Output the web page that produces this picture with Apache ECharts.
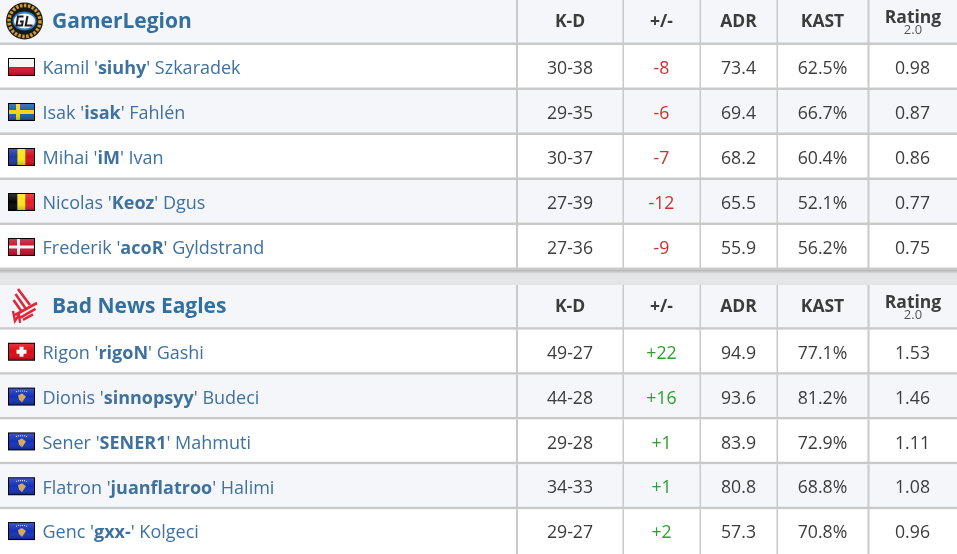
<!DOCTYPE html>
<html>
<head>
<meta charset="utf-8">
<title>Scoreboard</title>
<script src="https://cdn.jsdelivr.net/npm/echarts@6/dist/echarts.min.js"></script>
<style>
html, body { margin: 0; padding: 0; background: #fff; }
#main { width: 957px; height: 554px; }
</style>
</head>
<body>
<div id="main"></div>
<script>
var columns = ['K-D', '+/-', 'ADR', 'KAST', 'Rating'];
var ratingVersion = '2.0';

var teamA = 'GamerLegion';
var namesA = [['Kamil', 'siuhy', 'Szkaradek'], ['Isak', 'isak', 'Fahlén'], ['Mihai', 'iM', 'Ivan'], ['Nicolas', 'Keoz', 'Dgus'], ['Frederik', 'acoR', 'Gyldstrand']];
var flagsA = ['pl', 'se', 'ro', 'be', 'dk'];
var kdA = ['30-38', '29-35', '30-37', '27-39', '27-36'];
var diffA = [-8, -6, -7, -12, -9];
var adrA = [73.4, 69.4, 68.2, 65.5, 55.9];
var kastA = [62.5, 66.7, 60.4, 52.1, 56.2];
var ratingA = [0.98, 0.87, 0.86, 0.77, 0.75];

var teamB = 'Bad News Eagles';
var namesB = [['Rigon', 'rigoN', 'Gashi'], ['Dionis', 'sinnopsyy', 'Budeci'], ['Sener', 'SENER1', 'Mahmuti'], ['Flatron', 'juanflatroo', 'Halimi'], ['Genc', 'gxx-', 'Kolgeci']];
var flagsB = ['ch', 'xk', 'xk', 'xk', 'xk'];
var kdB = ['49-27', '44-28', '29-28', '34-33', '29-27'];
var diffB = [22, 16, 1, 1, 2];
var adrB = [94.9, 93.6, 83.9, 80.8, 57.3];
var kastB = [77.1, 81.2, 72.9, 68.8, 70.8];
var ratingB = [1.53, 1.46, 1.11, 1.08, 0.96];

// column borders in x axis units (the axis runs 0-957)
var colEdges = [517, 623, 700, 777, 868, 957];
var FONT = '"Open Sans", "Noto Sans", sans-serif';
var LINK = '#3f719f';
var DARK = '#3c3c3c';
var LINE = '#c9c9c9';
var SHADE = '#f5f6fa';

var chart = echarts.init(document.getElementById('main'), null, { renderer: 'canvas' });

function gloss(x, y, w, h) {
	return {
		type: 'rect',
		shape: { x: x, y: y, width: w, height: h },
		style: {
			fill: new echarts.graphic.LinearGradient(0, 0, 0, 1, [
				{ offset: 0, color: 'rgba(255,255,255,0.18)' },
				{ offset: 0.5, color: 'rgba(255,255,255,0)' },
				{ offset: 1, color: 'rgba(0,0,0,0.22)' }
			])
		}
	};
}

function box(x, y, w, h, c) {
	return { type: 'rect', shape: { x: x, y: y, width: w, height: h }, style: { fill: c } };
}

function stroke(points, c, w) {
	return { type: 'polyline', shape: { points: points }, style: { fill: 'none', stroke: c, lineWidth: w } };
}

// little flag, 27x18 with a black border
function flag(code, cy) {
	var x = 8, y = cy - 9, w = 27, h = 18, c = [];
	var ix = x + 1, iy = y + 1, iw = w - 2, ih = h - 2;
	c.push(box(x, y, w, h, '#000'));
	if (code == 'pl') {
		c.push(box(ix, iy, iw, ih / 2, '#f4f4f4'), box(ix, iy + ih / 2, iw, ih / 2, '#d3112f'));
	} else if (code == 'se') {
		c.push(box(ix, iy, iw, ih, '#1a5aa5'), box(ix + 7, iy, 4, ih, '#f7d417'), box(ix, iy + 6, iw, 4, '#f7d417'));
	} else if (code == 'ro') {
		c.push(box(ix, iy, iw / 3, ih, '#1c3a9c'), box(ix + iw / 3, iy, iw / 3, ih, '#fbe31a'), box(ix + iw * 2 / 3, iy, iw / 3, ih, '#cf1020'));
	} else if (code == 'be') {
		c.push(box(ix, iy, iw / 3, ih, '#050505'), box(ix + iw / 3, iy, iw / 3, ih, '#fbe31a'), box(ix + iw * 2 / 3, iy, iw / 3, ih, '#e21a2c'));
	} else if (code == 'dk') {
		c.push(box(ix, iy, iw, ih, '#c8102e'), box(ix + 8, iy, 3, ih, '#f4f4f4'), box(ix, iy + 6.5, iw, 3, '#f4f4f4'));
	} else if (code == 'ch') {
		c.push(box(ix, iy, iw, ih, '#dc0a14'), box(ix + 10.5, iy + 3, 4, 10, '#fff'), box(ix + 7.5, iy + 6, 10, 4, '#fff'));
	} else if (code == 'xk') {
		c.push(box(ix, iy, iw, ih, '#1330b8'));
		c.push({ type: 'polygon', shape: { points: [[ix + 9, iy + 7], [ix + 13, iy + 5], [ix + 17, iy + 8], [ix + 15, iy + 11], [ix + 13, iy + 14], [ix + 10, iy + 11]] }, style: { fill: '#d5a85c' } });
		for (var i = 0; i < 6; i++) {
			c.push({ type: 'circle', shape: { cx: ix + 7.5 + i * 2, cy: iy + 3 - (i == 0 || i == 5 ? 0 : 0.6), r: 0.6 }, style: { fill: '#e8e8f5' } });
		}
	}
	c.push(gloss(ix, iy, iw, ih));
	return { type: 'group', children: c, silent: true };
}

function logoGL(cy) {
	var cx = 24.5, c = [];
	c.push({ type: 'circle', shape: { cx: cx, cy: cy, r: 18.5 }, style: { fill: '#1b1b1b' } });
	c.push({ type: 'circle', shape: { cx: cx, cy: cy, r: 15.5 }, style: { fill: 'none', stroke: '#d39a2d', lineWidth: 3.5, lineDash: [2.5, 1.5] } });
	c.push({ type: 'circle', shape: { cx: cx, cy: cy, r: 12.5 }, style: { fill: '#15181c' } });
	c.push({ type: 'ellipse', shape: { cx: cx, cy: cy, rx: 12, ry: 9.5 }, style: { fill: '#2f83bd' } });
	c.push({ type: 'ellipse', shape: { cx: cx, cy: cy, rx: 10.5, ry: 7.5 }, style: { fill: '#f4f6f8' } });
	// GL drawn as strokes, it is a part of the picture
	c.push(stroke([[cx - 1, cy - 4.5], [cx - 6.5, cy - 4.5], [cx - 8, cy + 4.5], [cx - 2.5, cy + 4.5], [cx - 1.8, cy + 0.5], [cx - 4.5, cy + 0.5]], '#1a1d22', 2));
	c.push(stroke([[cx + 3, cy - 5], [cx + 1.2, cy + 4.5], [cx + 8, cy + 4.5]], '#1a1d22', 2));
	return { type: 'group', children: c, silent: true };
}

function logoBNE(cy) {
	var red = '#e0263a', c = [];
	c.push(stroke([[18, cy - 17], [30, cy - 1]], red, 2.6));
	c.push(stroke([[15.5, cy - 12], [26, cy + 3]], red, 2.6));
	c.push(stroke([[13.5, cy - 6], [22, cy + 6]], red, 2.6));
	c.push(stroke([[37, cy - 3], [15, cy + 9]], red, 2.8));
	c.push(stroke([[35.5, cy + 3], [20, cy + 12]], red, 2.6));
	c.push(stroke([[33, cy + 8.5], [23, cy + 14]], red, 2.4));
	c.push(stroke([[13, cy + 5], [15, cy + 15], [19, cy + 9], [20, cy + 17]], red, 2.4));
	return { type: 'group', children: c, silent: true };
}

// row items: 0 is the header row, 1-5 are players
function renderRow(params, api) {
	var row = api.value(0);
	var top = api.coord([0, row]);
	var band = api.size([0, 1])[1];
	var y0 = top[1] - band / 2;
	var bg = (row % 2 == 0 && row < 5) ? SHADE : '#ffffff';
	var c = [box(0, y0, 957, band, bg)];
	colEdges.slice(0, 5).forEach(function (e, i) {
		var px = api.coord([e, row])[0];
		c.push(box(px - (i == 0 ? 1 : 0.5), y0, (i == 0 || i == 4) ? 2 : 1.5, band, LINE));
	});
	// the lower table runs off the picture, no closing line there
	if (!(params.seriesIndex > 2 && row == 5)) {
		c.push(box(0, y0 + band - 2.5, 957, 2.5, LINE));
	}
	// shadow under the upper table
	if (params.seriesIndex <= 2 && row == 5) {
		c.push({
			type: 'rect',
			shape: { x: 0, y: y0 + band, width: 957, height: 4 },
			style: {
				fill: new echarts.graphic.LinearGradient(0, 0, 0, 1, [
					{ offset: 0, color: 'rgba(0,0,0,0.22)' },
					{ offset: 1, color: 'rgba(0,0,0,0)' }
				])
			}
		});
	}
	return { type: 'group', children: c };
}

function cellText(text, px, y, size, weight, fill) {
	return { type: 'text', style: { text: text, x: px, y: y, align: 'center', verticalAlign: 'middle', fontFamily: FONT, fontWeight: weight, fontSize: size, fill: fill } };
}

function cellRenderer(cells) {
	return function (params, api) {
		var cell = cells[params.dataIndex];
		var col = cell[0], row = cell[1], text = cell[2];
		var y = api.coord([0, row])[1];
		var px = api.coord([(colEdges[col] + colEdges[col + 1]) / 2, row])[0];
		if (row == 0) {
			if (col == 4) {
				return {
					type: 'group',
					children: [
						cellText(text, px + 0.5, y - 4.5, 17.5, 'bold', DARK),
						cellText(ratingVersion, px + 0.5, y + 7.5, 13, 'normal', '#555')
					]
				};
			}
			return cellText(text, px, y, 17.5, 'bold', DARK);
		}
		var fill = DARK;
		if (col == 1) {
			fill = text.charAt(0) == '+' ? '#2ba02b' : '#d03030';
		}
		return cellText(text, px, y + 1.7, 17.7, 'normal', fill);
	};
}

function renderName(team, names, flags, logo) {
	return function (params, api) {
		var row = api.value(0);
		var y = api.coord([0, row])[1];
		if (row == 0) {
			return {
				type: 'group',
				children: [
					logo(y - 1.5),
					{ type: 'text', style: { text: team, x: 52, y: y - 0.5, verticalAlign: 'middle', fontFamily: FONT, fontWeight: 'bold', fontSize: 21, fill: '#33709f' } }
				]
			};
		}
		var n = names[row - 1];
		return {
			type: 'group',
			children: [
				flag(flags[row - 1], y - 0.5),
				{
					type: 'text',
					style: {
						text: '{a|' + n[0] + " '}{b|" + n[1] + "}{a|' " + n[2] + '}',
						x: 42.5, y: y + 1.7, verticalAlign: 'middle',
						rich: {
							a: { fontFamily: FONT, fontSize: 18, fill: LINK },
							b: { fontFamily: FONT, fontSize: 18, fontWeight: 'bold', fill: LINK }
						}
					}
				}
			]
		};
	};
}

function cellRows(kd, diff, adr, kast, rating) {
	var out = [];
	columns.forEach(function (c, i) { out.push([i, 0, c]); });
	kd.forEach(function (v, r) {
		var d = diff[r];
		out.push([0, r + 1, v]);
		out.push([1, r + 1, (d > 0 ? '+' : '') + d]);
		out.push([2, r + 1, adr[r].toFixed(1)]);
		out.push([3, r + 1, kast[r].toFixed(1) + '%']);
		out.push([4, r + 1, rating[r].toFixed(2)]);
	});
	return out;
}

function tableSeries(idx, team, names, flags, logo, kd, diff, adr, kast, rating) {
	var rows = [[0], [1], [2], [3], [4], [5]];
	var cells = cellRows(kd, diff, adr, kast, rating);
	return [
		{ type: 'custom', xAxisIndex: idx, yAxisIndex: idx, data: rows, encode: { y: 0 }, renderItem: renderRow, silent: true, z: 1, clip: false },
		{ type: 'custom', xAxisIndex: idx, yAxisIndex: idx, data: rows, encode: { y: 0 }, renderItem: renderName(team, names, flags, logo), silent: true, z: 3, clip: false },
		{ type: 'custom', xAxisIndex: idx, yAxisIndex: idx, data: cells.map(function (c) { return [c[0], c[1]]; }), encode: { x: 0, y: 1 }, renderItem: cellRenderer(cells), silent: true, z: 3, clip: false }
	];
}

function axisX(i) {
	return { type: 'value', gridIndex: i, min: 0, max: 957, show: false };
}
function axisY(i) {
	return { type: 'category', gridIndex: i, inverse: true, data: ['h', 'p1', 'p2', 'p3', 'p4', 'p5'], show: false };
}

var seriesA = tableSeries(0, teamA, namesA, flagsA, logoGL, kdA, diffA, adrA, kastA, ratingA);
var seriesB = tableSeries(1, teamB, namesB, flagsB, logoBNE, kdB, diffB, adrB, kastB, ratingB);

chart.setOption({
	animation: false,
	backgroundColor: '#e3e5e7',
	grid: [
		{ left: 0, right: 0, top: 0, height: 270 },
		{ left: 0, right: 0, top: 285, height: 270 }
	],
	xAxis: [axisX(0), axisX(1)],
	yAxis: [axisY(0), axisY(1)],
	series: seriesA.concat(seriesB)
});
</script>
</body>
</html>
